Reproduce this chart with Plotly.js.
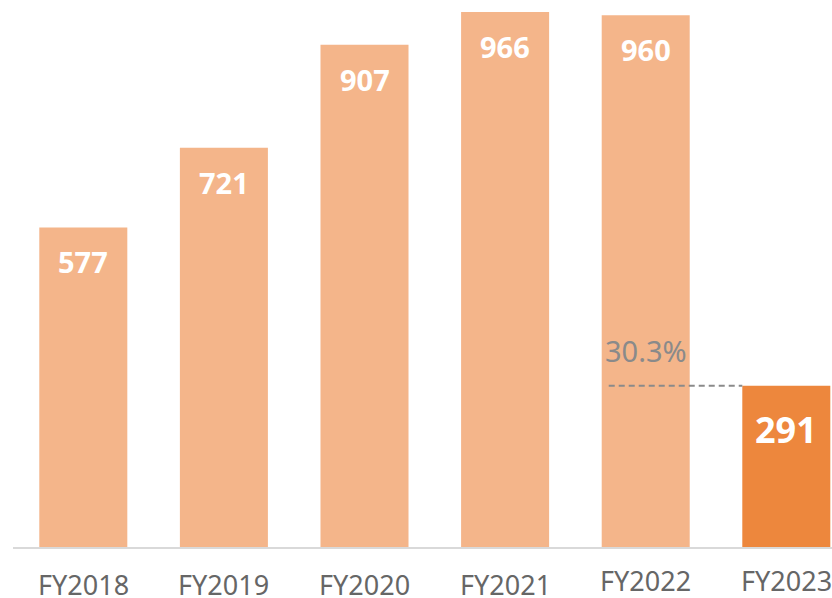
<!DOCTYPE html>
<html>
<head>
<meta charset="utf-8">
<script src="https://cdn.plot.ly/plotly-3.0.1.min.js"></script>
<style>html,body{margin:0;padding:0;background:#fff;}#chart{width:832px;height:598px;}</style>
</head>
<body>
<div id="chart"></div>
<script>
const categories = ["FY2018", "FY2019", "FY2020", "FY2021", "FY2022", "FY2023"];
const values = [577, 721, 907, 966, 960, 291];
const valueLabels = ["577", "721", "907", "966", "960", "291"];
const ratioLabel = "30.3%";

const lightColor = "#F4B58A";
const darkColor = "#ED873D";
const last = values.length - 1;
const colors = values.map((v, i) => i === last ? darkColor : lightColor);

const trace = {
  type: "bar",
  x: categories.map((c, i) => i),
  y: values,
  marker: { color: colors, line: { width: 0 } },
  width: 0.626,
  hoverinfo: "skip"
};

const annotations = [];
values.forEach((v, i) => {
  const big = i === last;
  annotations.push({
    x: i, y: v, xref: "x", yref: "y",
    text: valueLabels[i],
    showarrow: false,
    yanchor: "top",
    yshift: big ? -17 : -13,
    font: { family: "Noto Sans, Roboto, sans-serif", size: big ? 36 : 29, color: "#ffffff", weight: "bold" }
  });
});
// category labels (last two sit slightly higher in the reference)
const labelLift = [0, 0, 0, 0, 4, 4];
categories.forEach((c, i) => {
  annotations.push({
    x: i, y: 0, xref: "x", yref: "paper",
    text: c, showarrow: false, yanchor: "top",
    yshift: -17 + labelLift[i],
    font: { family: "Noto Sans, sans-serif", size: 27, color: "#666666" }
  });
});
// ratio label
annotations.push({
  x: 4, y: values[last], xref: "x", yref: "y",
  text: ratioLabel, showarrow: false, yanchor: "bottom", yshift: 14,
  font: { family: "Noto Sans, sans-serif", size: 29, color: "#8a8a8a" }
});

const layout = {
  width: 832, height: 598,
  margin: { l: 13, r: 0, t: 0, b: 51, pad: 0 },
  paper_bgcolor: "#ffffff", plot_bgcolor: "#ffffff",
  showlegend: false,
  bargap: 0.374,
  xaxis: {
    type: "linear",
    range: [-0.5, 5.325],
    showgrid: false, zeroline: false,
    showline: true, linecolor: "#d9d9d9", linewidth: 1.5,
    showticklabels: false, ticks: "",
    fixedrange: true
  },
  yaxis: {
    range: [0, 987.7],
    showgrid: false, zeroline: false, showline: false,
    showticklabels: false, ticks: "",
    fixedrange: true
  },
  annotations: annotations,
  shapes: [{
    type: "line", xref: "x", yref: "y",
    x0: 3.737, x1: 4.687, y0: values[last], y1: values[last],
    line: { color: "#8a8a8a", width: 2, dash: "6px,4px" },
    layer: "above"
  }]
};

Plotly.newPlot("chart", [trace], layout, { displayModeBar: false, staticPlot: true });
</script>
</body>
</html>
